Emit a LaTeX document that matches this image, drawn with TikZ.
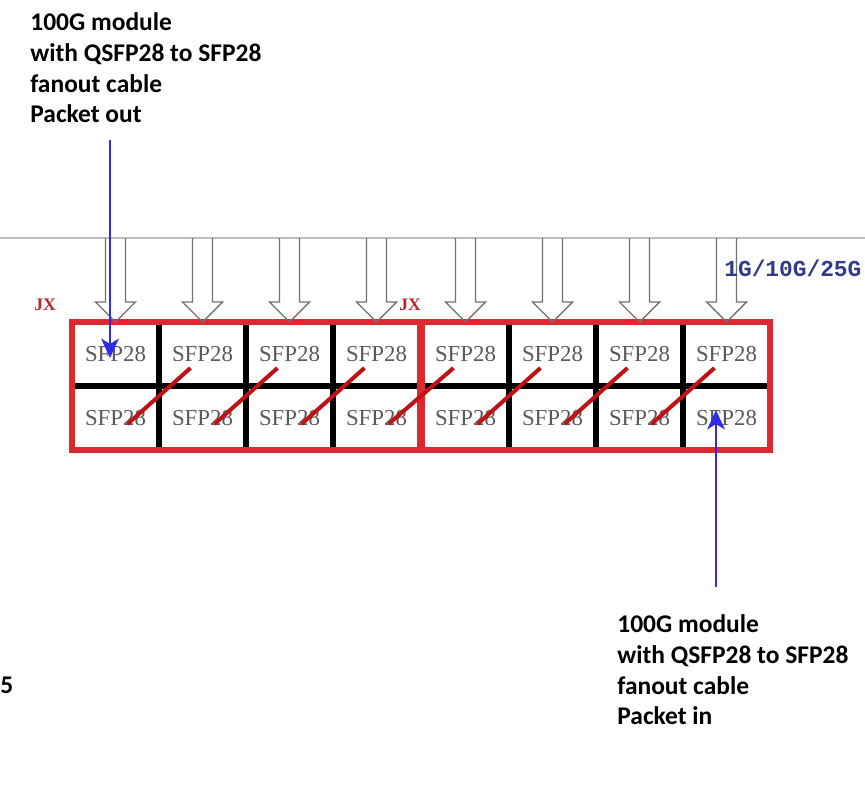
\documentclass[tikz,border=0pt]{standalone}
\usepackage{fontspec}
\setmainfont{Carlito}
\newfontfamily\cellfont{Liberation Serif}
\newfontfamily\ratefont{Liberation Mono}
\usetikzlibrary{arrows.meta, calc}

\definecolor{frameRed}{RGB}{222,40,48}
\definecolor{diagRed}{RGB}{190,18,22}
\definecolor{pktBlue}{RGB}{45,45,235}
\definecolor{rateBlue}{RGB}{50,58,140}
\definecolor{cellGray}{RGB}{90,90,90}

\tikzset{
  port/.style={draw=black, line width=3.2pt, fill=white, minimum width=1.74cm,
    minimum height=1.28cm, inner sep=0pt, outer sep=0pt,
    font=\cellfont\fontsize{13}{13}\selectfont, text=cellGray},
  cage/.style={draw=frameRed, line width=3pt},
  fanout/.style={draw=diagRed, line width=2.3pt},
  hollow/.style={draw=black!55, line width=0.8pt, line join=miter},
  pkt/.style={draw=pktBlue, line width=1.5pt, -{Stealth[length=11pt, width=10pt, inset=3pt]}},
  note/.style={font=\bfseries\fontsize{14.5}{17.6}\selectfont, align=left, inner sep=0pt},
  jx/.style={font=\cellfont\bfseries\fontsize{10}{10}\selectfont, text=frameRed!85!black, inner sep=0pt}
}

\begin{document}
\begin{tikzpicture}[x=0.02cm, y=-0.02cm]
  \useasboundingbox[fill=white] (0,0) rectangle (865,793);
  % linea gris
  \draw[black!25, line width=0.9pt] (0,238) -- (865,238);
  % puertos SFP28: dos grupos de 4 columnas x 2 filas
  \foreach \g/\x in {0/72, 1/422}{
    \foreach \c in {1,...,4}{
      \pgfmathtruncatemacro{\k}{\g*4+\c}
      \node[port] (s1-\k) at (\x+\c*87-43.5, 354) {SFP28};
      \node[port] (s2-\k) at (\x+\c*87-43.5, 418) {SFP28};
    }
  }
  % marcos rojos
  \draw[cage] (s1-1.north west) rectangle (s2-4.south east);
  \draw[cage] (s1-5.north west) rectangle (s2-8.south east);
  % flechas huecas de entrada
  \foreach \k in {1,...,8}{
    \draw[hollow] ($(s1-\k.north)+(-10,-84)$) -- ($(s1-\k.north)+(-10,-20)$)
      -- ($(s1-\k.north)+(-20,-20)$) -- (s1-\k.north) -- ($(s1-\k.north)+(20,-20)$)
      -- ($(s1-\k.north)+(10,-20)$) -- ($(s1-\k.north)+(10,-84)$);
  }
  % cables fanout
  \foreach \k [evaluate=\k as \n using int(\k+1)] in {1,...,7}{
    \draw[fanout] ($(s2-\k.center)+(12,6)$) -- ($(s1-\n.center)+(-12,14)$);
  }
  % etiquetas
  \node[jx] (jxA) at (45,305) {JX};
  \node[jx] (jxB) at (410,305) {JX};
  \node[anchor=west, inner sep=0pt, text=rateBlue,
    font=\ratefont\bfseries\fontsize{13}{13}\selectfont] (rate) at (724,268) {1G/10G/25G};
  \node[note, anchor=north west] (outTxt) at (30,12) {100G module\\with QSFP28 to SFP28\\fanout cable\\Packet out};
  \node[note, anchor=north west] (inTxt) at (617,614) {100G module\\with QSFP28 to SFP28\\fanout cable\\Packet in};
  \node[note, anchor=west] (cut) at (0,685) {5};
  % flechas azules
  \coordinate (outTop) at (110,140);
  \coordinate (inBot) at (716,587);
  \draw[pkt] (outTop) -- (outTop |- {$(s1-1.center)+(0,4)$});
  \draw[pkt] (inBot) -- (inBot |- {$(s2-8.center)+(0,-8)$});
\end{tikzpicture}
\end{document}
